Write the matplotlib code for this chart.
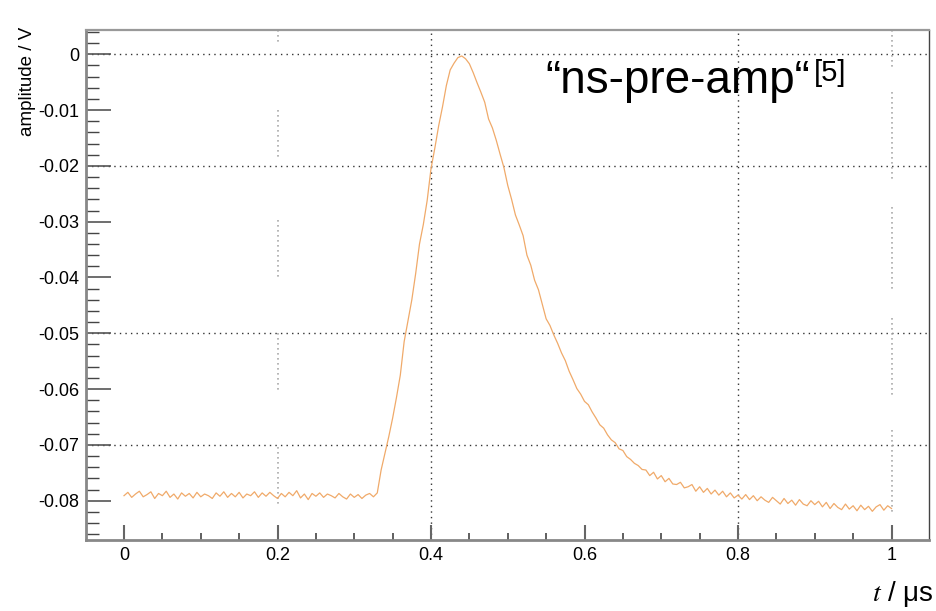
import numpy as np
import matplotlib
matplotlib.use('Agg')
import matplotlib.pyplot as plt
from matplotlib.ticker import MultipleLocator, FixedLocator

plt.rcParams['font.family'] = ['Liberation Sans', 'DejaVu Sans']
plt.rcParams['mathtext.fontset'] = 'stix'

# time axis of the scope trace (microseconds), one sample every 5 ns
t_us = np.arange(201) * 0.005

# amplitude in mV
amp_mV = [
    -79.1, -78.5, -79.4, -78.8, -78.3, -79.3, -78.9, -78.4, -79.6, -78.7,
    -79.1, -78.3, -79.4, -78.8, -79.7, -78.6, -79.2, -78.7, -79.5, -78.5,
    -79.3, -78.8, -79.1, -79.6, -78.6, -79.2, -78.4, -79.4, -78.7, -79.3,
    -78.5, -79.5, -78.8, -79.1, -78.4, -79.4, -78.6, -79.2, -78.5, -79.1,
    -79.6, -78.7, -79.3, -78.5, -79.1, -78.2, -79.5, -78.8, -79.8, -78.7,
    -79.2, -78.6, -79.4, -78.8, -79.1, -79.5, -78.7, -79.3, -79.7, -78.8,
    -79.4, -78.9, -79.6, -79.0, -78.7, -79.3, -78.6, -74.5, -71.5, -68.5,
    -65.2, -61.5, -57.5, -51.5, -47.8, -44.0, -39.3, -34.0, -30.5, -26.2,
    -20.5, -16.8, -12.8, -9.4, -5.6, -2.8, -1.6, -0.6, -0.3, -0.8,
    -1.7, -3.3, -5.1, -6.8, -8.6, -11.6, -13.2, -15.4, -17.9, -20.3,
    -23.5, -26.0, -28.8, -30.6, -32.5, -36.0, -37.8, -40.5, -42.2, -44.8,
    -47.4, -48.6, -50.3, -51.8, -53.5, -54.9, -56.8, -58.3, -59.9, -60.9,
    -62.2, -62.8, -64.1, -65.2, -66.4, -67.0, -68.2, -69.1, -69.6, -70.7,
    -71.0, -72.1, -72.6, -73.3, -73.7, -74.4, -74.5, -75.5, -74.9, -76.1,
    -75.5, -76.6, -76.0, -77.0, -77.1, -76.7, -77.7, -77.5, -77.1, -78.3,
    -77.5, -78.5, -77.8, -78.8, -78.1, -79.0, -78.3, -79.3, -78.6, -79.5,
    -79.0, -79.7, -78.9, -79.8, -79.1, -80.0, -79.3, -79.9, -80.3, -79.4,
    -80.0, -80.6, -79.6, -80.5, -79.9, -80.8, -79.8, -80.6, -80.9, -80.0,
    -80.7, -80.1, -81.1, -80.3, -81.4, -80.5, -81.2, -81.6, -80.6, -81.5,
    -80.9, -81.8, -80.8, -81.6, -81.0, -81.9, -81.1, -80.7, -81.7, -80.9,
    -81.4,
]
amp_V = np.array(amp_mV) / 1000.0

x_ticks = [0, 0.2, 0.4, 0.6, 0.8, 1.0]
x_tick_labels = ['0', '0.2', '0.4', '0.6', '0.8', '1']
y_ticks = [0, -0.01, -0.02, -0.03, -0.04, -0.05, -0.06, -0.07, -0.08]
y_tick_labels = ['0', '-0.01', '-0.02', '-0.03', '-0.04', '-0.05', '-0.06', '-0.07', '-0.08']

fig = plt.figure(figsize=(9.37, 6.11), dpi=100)
ax = fig.add_axes([0.0918, 0.1162, 0.8997, 0.8347])

ax.set_xlim(-0.0495, 1.0489)
ax.set_ylim(-0.08704, 0.00435)

# grid (dotted), only some lines like in the scope screenshot
for yg in [0, -0.02, -0.05, -0.07]:
    ax.axhline(yg, color='#333333', lw=1.0, ls=(0, (1, 3)), zorder=1)
for xg in [0.4, 0.8]:
    ax.axvline(xg, color='#333333', lw=1.0, ls=(0, (1, 3)), zorder=1)

# light grey broken grid lines at 0.2 and 1.0
segs_02 = [(0.00435, 0.0017), (-0.0100, -0.0184), (-0.0297, -0.0401),
           (-0.0499, -0.0602), (-0.0704, -0.0811)]
segs_10 = [(0.00435, -0.0023), (-0.0068, -0.0229), (-0.0274, -0.0426),
           (-0.0473, -0.0610), (-0.0673, -0.0820)]
for y0, y1 in segs_02:
    ax.plot([0.2, 0.2], [y0, y1], color='#aaaaaa', lw=1.2, ls=(0, (1, 2)), zorder=1)
for y0, y1 in segs_10:
    ax.plot([1.0, 1.0], [y0, y1], color='#aaaaaa', lw=1.2, ls=(0, (1, 2)), zorder=1)

ax.plot(t_us, amp_V, color='#f0aa6a', lw=0.9, zorder=3)

# axes frame
ax.spines['left'].set_color('#888888')
ax.spines['left'].set_linewidth(2.0)
ax.spines['bottom'].set_color('#888888')
ax.spines['bottom'].set_linewidth(2.0)
ax.spines['top'].set_color('#999999')
ax.spines['top'].set_linewidth(1.6)
ax.spines['right'].set_color('#444444')
ax.spines['right'].set_linewidth(1.0)

ax.xaxis.set_major_locator(FixedLocator(x_ticks))
ax.set_xticklabels(x_tick_labels)
ax.xaxis.set_minor_locator(MultipleLocator(0.05))
ax.yaxis.set_major_locator(FixedLocator(y_ticks))
ax.set_yticklabels(y_tick_labels)
ax.yaxis.set_minor_locator(MultipleLocator(0.002))

ax.tick_params(axis='x', which='major', direction='in', length=11, width=1.5,
               color='#666666', labelsize=13, pad=5, top=False)
ax.tick_params(axis='x', which='minor', direction='in', length=5, width=1.2,
               color='#444444', top=False)
ax.tick_params(axis='y', which='major', direction='in', length=18, width=1.2,
               color='#555555', labelsize=13, pad=5, right=False)
ax.tick_params(axis='y', which='minor', direction='in', length=9, width=1.0,
               color='#444444', right=False)

# axis titles
fig.text(28 / 937, 1 - 27 / 611, 'amplitude / V', rotation=90, ha='center', va='top',
         fontsize=13.5)
fig.text(0.997, 1 - 601 / 611, '$t$ / μs', ha='right', va='baseline', fontsize=20)

# label inside the plot
fig.text(545 / 937, 1 - 93 / 611, '\u201cns-pre-amp\u201c', ha='left', va='baseline',
         fontsize=33)
fig.text(814 / 937, 1 - 81 / 611, '[5]', ha='left', va='baseline', fontsize=21)

fig.savefig('out.png', dpi=100)
